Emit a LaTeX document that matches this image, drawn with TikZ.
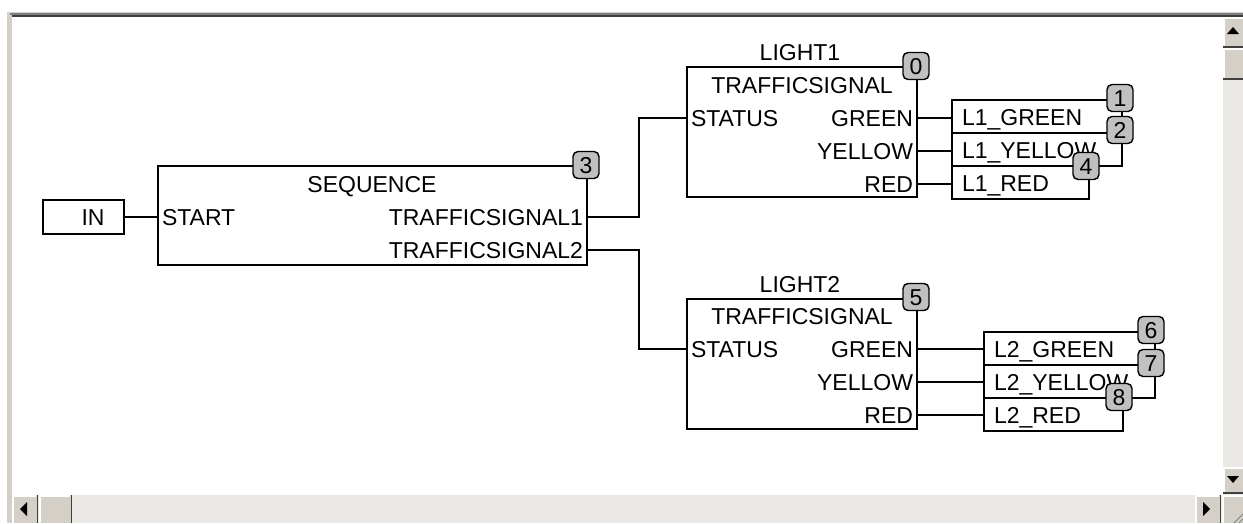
\documentclass[tikz,border=0pt]{standalone}
\usepackage{fontspec}
\setmainfont{Liberation Sans}
\definecolor{face}{RGB}{212,208,200}
\definecolor{track}{RGB}{234,232,228}
\definecolor{shadow}{RGB}{64,64,64}
\definecolor{midgray}{RGB}{128,128,128}
\definecolor{badgegray}{RGB}{192,192,192}
\tikzset{
  wire/.style={line width=1.4pt, draw=black},
  fbox/.style={draw=black, line width=1.4pt, rectangle, anchor=north west, inner sep=0pt, outer sep=0pt},
  lbl/.style={inner sep=0pt, outer sep=0pt, text height=16.5pt, text depth=0pt, font=\fontsize{23}{27}\selectfont},
  badge/.style={lbl, draw=black, line width=1.4pt, fill=badgegray, rounded corners=5pt, minimum width=26pt, minimum height=27pt},
  btn/.style={fill=face},
  btnedge/.style={draw=shadow, line width=1.5pt},
  btnlight/.style={draw=white, line width=1.5pt},
}
\begin{document}
\begin{tikzpicture}[x=1pt,y=-1pt]
\useasboundingbox (0,0) rectangle (1243,523);
\fill[white] (0,0) rectangle (1243,523);
% window frame
\fill[face] (7,12) rectangle (12,523);
\fill[face] (7,12) rectangle (1243,14);
\fill[midgray] (10,13) rectangle (1243,14.5);
\fill[shadow] (12,14.5) rectangle (1243,17);
% vertical scrollbar
\fill[track] (1223,17) rectangle (1243,495);
\fill[btn] (1223,17) rectangle (1243,47);
\draw[btnlight] (1224,46) -- (1224,18) -- (1243,18);
\draw[btnedge] (1223,47) -- (1243,47);
\fill[black] (1233,27) -- (1239,34) -- (1227,34) -- cycle;
\fill[btn] (1223,48) rectangle (1243,79);
\draw[btnlight] (1224,78) -- (1224,49) -- (1243,49);
\draw[btnedge] (1223,79) -- (1243,79);
\fill[btn] (1223,467) rectangle (1243,493);
\draw[btnlight] (1224,492) -- (1224,468) -- (1243,468);
\draw[btnedge] (1223,493) -- (1243,493);
\fill[black] (1227,476) -- (1239,476) -- (1233,483) -- cycle;
% horizontal scrollbar
\fill[track] (12,495) rectangle (1222,523);
\fill[btn] (12,495) rectangle (37,523);
\draw[btnlight] (13,523) -- (13,496) -- (36,496);
\draw[btnedge] (37.5,495) -- (37.5,523);
\fill[black] (20,509) -- (27,502) -- (27,516) -- cycle;
\fill[btn] (39,495) rectangle (71,523);
\draw[btnlight] (40,523) -- (40,496) -- (70,496);
\draw[btnedge] (71.5,495) -- (71.5,523);
\fill[btn] (1195,495) rectangle (1220,523);
\draw[btnlight] (1196,523) -- (1196,496) -- (1219,496);
\draw[btnedge] (1220.5,495) -- (1220.5,523);
\fill[black] (1203,502) -- (1210,509) -- (1203,516) -- cycle;
\fill[btn] (1222,495) rectangle (1243,523);
\draw[btnlight] (1223,523) -- (1223,496) -- (1243,496);
\draw[midgray, line width=1pt] (1234,523) -- (1243,514);
\draw[midgray, line width=1pt] (1239,523) -- (1243,519);
% function blocks
\node[fbox, minimum width=81pt, minimum height=34pt] (inbox) at (43,200) {};
\node[fbox, minimum width=429pt, minimum height=99pt] (seq) at (158,166) {};
\node[fbox, minimum width=230pt, minimum height=130pt] (l1) at (687,67) {};
\node[fbox, minimum width=230pt, minimum height=130pt] (l2) at (687,299) {};
% output variables
\node[fbox, minimum width=170pt, minimum height=33pt] (l1g) at (952,100) {};
\node[fbox, minimum width=170pt, minimum height=33pt] (l1y) at (952,133) {};
\node[fbox, minimum width=137pt, minimum height=33pt] (l1r) at (952,166) {};
\node[fbox, minimum width=171pt, minimum height=33pt] (l2g) at (984,332) {};
\node[fbox, minimum width=171pt, minimum height=33pt] (l2y) at (984,365) {};
\node[fbox, minimum width=139pt, minimum height=33pt] (l2r) at (984,398) {};
% texts
\node[lbl] (intxt) at (93,217) {IN};
\node[lbl] (seqtxt) at (372,184) {SEQUENCE};
\node[lbl, anchor=west] (start) at (162,217) {START};
\node[lbl, anchor=east] (ts1) at (583,217) {TRAFFICSIGNAL1};
\node[lbl, anchor=east] (ts2) at (583,250) {TRAFFICSIGNAL2};
\node[lbl] (l1name) at (800,52) {LIGHT1};
\node[lbl] (l1type) at (802,85) {TRAFFICSIGNAL};
\node[lbl, anchor=west] (l1st) at (691,118) {STATUS};
\node[lbl, anchor=east] (l1gr) at (913,118) {GREEN};
\node[lbl, anchor=east] (l1ye) at (913,151) {YELLOW};
\node[lbl, anchor=east] (l1re) at (913,184) {RED};
\node[lbl] (l2name) at (800,284) {LIGHT2};
\node[lbl] (l2type) at (802,316) {TRAFFICSIGNAL};
\node[lbl, anchor=west] (l2st) at (691,349) {STATUS};
\node[lbl, anchor=east] (l2gr) at (913,349) {GREEN};
\node[lbl, anchor=east] (l2ye) at (913,382) {YELLOW};
\node[lbl, anchor=east] (l2re) at (913,415) {RED};
\node[lbl, anchor=west] (l1gt) at (962,117) {L1\_GREEN};
\node[lbl, anchor=west] (l1yt) at (962,150) {L1\_YELLOW};
\node[lbl, anchor=west] (l1rt) at (962,183) {L1\_RED};
\node[lbl, anchor=west] (l2gt) at (994,349) {L2\_GREEN};
\node[lbl, anchor=west] (l2yt) at (994,382) {L2\_YELLOW};
\node[lbl, anchor=west] (l2rt) at (994,415) {L2\_RED};
% connectors
\coordinate (j1) at (639,0);
\draw[wire] (inbox.east) -- (inbox.east -| seq.west);
\draw[wire] (seq.east |- ts1.east) -| (j1 |- l1st.west) -- (l1.west |- l1st.west);
\draw[wire] (seq.east |- ts2.east) -| (j1 |- l2st.west) -- (l2.west |- l2st.west);
\draw[wire] (l1.east |- l1gr.east) -- (l1g.west |- l1gr.east);
\draw[wire] (l1.east |- l1ye.east) -- (l1y.west |- l1ye.east);
\draw[wire] (l1.east |- l1re.east) -- (l1r.west |- l1re.east);
\draw[wire] (l2.east |- l2gr.east) -- (l2g.west |- l2gr.east);
\draw[wire] (l2.east |- l2ye.east) -- (l2y.west |- l2ye.east);
\draw[wire] (l2.east |- l2re.east) -- (l2r.west |- l2re.east);
% execution order badges
\node[badge] (b3) at ([shift={(-1,-1)}]seq.north east) {3};
\node[badge] (b0) at ([shift={(-1,-1)}]l1.north east) {0};
\node[badge] (b5) at ([shift={(-1,-2)}]l2.north east) {5};
\node[badge] (b1) at ([shift={(-2,-2)}]l1g.north east) {1};
\node[badge] (b2) at ([shift={(-2,-3)}]l1y.north east) {2};
\node[badge] (b4) at ([shift={(-3,0)}]l1r.north east) {4};
\node[badge] (b6) at ([shift={(-4,-2)}]l2g.north east) {6};
\node[badge] (b7) at ([shift={(-4,-2)}]l2y.north east) {7};
\node[badge] (b8) at ([shift={(-4,-1)}]l2r.north east) {8};
\end{tikzpicture}
\end{document}
